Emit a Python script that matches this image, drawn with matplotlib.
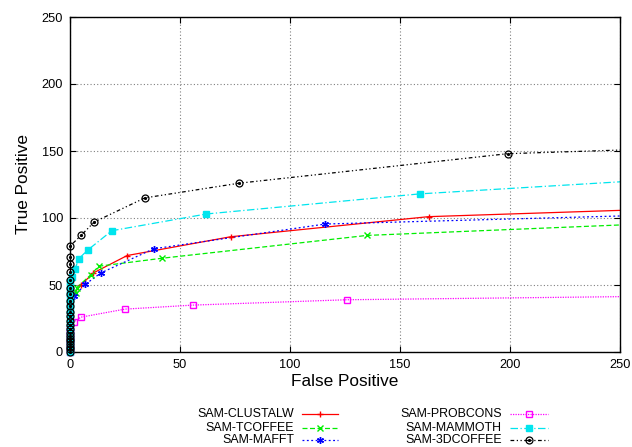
import matplotlib
matplotlib.use("Agg")
import matplotlib.pyplot as plt
from matplotlib.lines import Line2D

plt.rcParams['font.family'] = ['Liberation Sans', 'DejaVu Sans']

# ---- data (False Positive, True Positive) ----
clustalw_x = [0]*14 + [2, 5, 10.6, 26, 73, 163, 250]
clustalw_y = [0, 3, 6, 9, 12, 15, 18, 21, 24, 27, 30, 33, 36, 40, 44, 50, 59, 72, 86, 101, 105.7]

tcoffee_x = [0]*14 + [2.7, 3, 9.4, 13, 42, 135, 250]
tcoffee_y = [0, 3, 6, 9, 12, 15, 18, 21, 24, 27, 30, 33, 36, 40, 44, 48, 57.5, 64, 70, 87, 94.8]

mafft_x = [0]*14 + [2, 7, 14, 38, 116, 250]
mafft_y = [0, 3, 6, 9, 12, 15, 18, 21, 24, 27, 30, 32, 35, 38, 42, 50.5, 59, 77, 95.5, 101.5]

probcons_x = [0]*10 + [1.8, 5, 25, 56, 126, 250]
probcons_y = [0, 2, 4, 6, 8, 10, 12, 14, 16, 18, 22.6, 26, 32, 35, 39, 41.3]

mammoth_x = [0]*20 + [1, 2.3, 4, 8, 19, 62, 159, 250]
mammoth_y = [0, 2, 4, 6, 8, 10, 13, 16, 19, 22, 25, 28, 31, 34, 37, 40, 43, 46, 49, 52,
             56, 62, 69.6, 76, 90.5, 103, 118, 127]

coffee3d_x = [0]*22 + [5, 11, 34, 77, 199, 250]
coffee3d_y = [0, 2, 4, 6, 8, 10, 12, 14, 17, 20, 23, 27, 30, 34, 38, 43, 48, 54, 60, 66, 71, 79,
              87, 97, 115, 126, 148, 150.7]

labels = ["SAM-CLUSTALW", "SAM-TCOFFEE", "SAM-MAFFT",
          "SAM-PROBCONS", "SAM-MAMMOTH", "SAM-3DCOFFEE"]
x_ticks = [0, 50, 100, 150, 200, 250]
y_ticks = [0, 50, 100, 150, 200, 250]

W, H = 632, 447
fig = plt.figure(figsize=(W/100, H/100), dpi=100)
ax = fig.add_axes([70/W, 1-352/H, 550/W, 335/H])

styles = [
    dict(color='#ff0000', ls='-', marker='+', ms=5, mew=1.0, mfc='#ff0000'),
    dict(color='#00ee00', ls=(0, (4, 2)), marker='x', ms=4.5, mew=1.0, mfc='#00ee00'),
    dict(color='#0000ff', ls=(0, (1.5, 2)), marker=(6, 2, 0), ms=5, mew=1.0, mfc='#0000ff'),
    dict(color='#ff00ff', ls=(0, (1, 1)), marker='s', ms=4.5, mew=1.0, mfc='none'),
    dict(color='#00e5ee', ls=(0, (6, 2, 1, 2)), marker='s', ms=4.5, mew=1.0, mfc='#00e5ee'),
    dict(color='#000000', ls=(0, (3, 2, 1, 2, 1, 2)), marker='o', ms=5, mew=0.9, mfc='none'),
]
xs = [clustalw_x, tcoffee_x, mafft_x, probcons_x, mammoth_x, coffee3d_x]
ys = [clustalw_y, tcoffee_y, mafft_y, probcons_y, mammoth_y, coffee3d_y]

for x, y, st in zip(xs, ys, styles):
    ax.plot(x, y, color=st['color'], ls=st['ls'], lw=0.9, clip_on=True)
    ax.plot(x[:-1], y[:-1], ls='none', marker=st['marker'], ms=st['ms'], mew=st['mew'],
            mfc=st['mfc'], mec=st['color'], clip_on=False, zorder=3)
# dot inside black circles
ax.plot(coffee3d_x[:-1], coffee3d_y[:-1], ls='none', marker='o', ms=1.3, color='black', clip_on=False, zorder=4)

ax.set_xlim(0, 250)
ax.set_ylim(0, 250)
ax.set_xticks(x_ticks)
ax.set_yticks(y_ticks)
ax.tick_params(direction='in', top=True, right=True, length=4, labelsize=9.2, pad=5)
ax.grid(True, color='#808080', ls=(0, (1, 2)), lw=0.8)
for s in ax.spines.values():
    s.set_linewidth(1.0)
ax.set_xlabel("False Positive", fontsize=12.4, labelpad=2)
ax.set_ylabel("True Positive", fontsize=12.4, labelpad=8)

# manual gnuplot-style legend
rows = [414.3, 427.7, 440.0]
cols = [(294, 302, 338), (501.7, 510, 548)]
for i, (lab, st) in enumerate(zip(labels, styles)):
    c = cols[i // 3]
    py = rows[i % 3]
    fy = 1 - py/H
    fig.text(c[0]/W, fy, lab, ha='right', va='center', fontsize=8.9)
    fig.add_artist(Line2D([c[1]/W, c[2]/W], [fy, fy], color=st['color'], ls=st['ls'], lw=0.9,
                          transform=fig.transFigure))
    fig.add_artist(Line2D([(c[1]+c[2])/2/W], [fy], ls='none', marker=st['marker'], ms=st['ms'],
                          mew=st['mew'], mfc=st['mfc'], mec=st['color'], transform=fig.transFigure))
    if i == 5:
        fig.add_artist(Line2D([(c[1]+c[2])/2/W], [fy], ls='none', marker='o', ms=1.3, color='black',
                              transform=fig.transFigure))

fig.savefig("out.png", dpi=100)
